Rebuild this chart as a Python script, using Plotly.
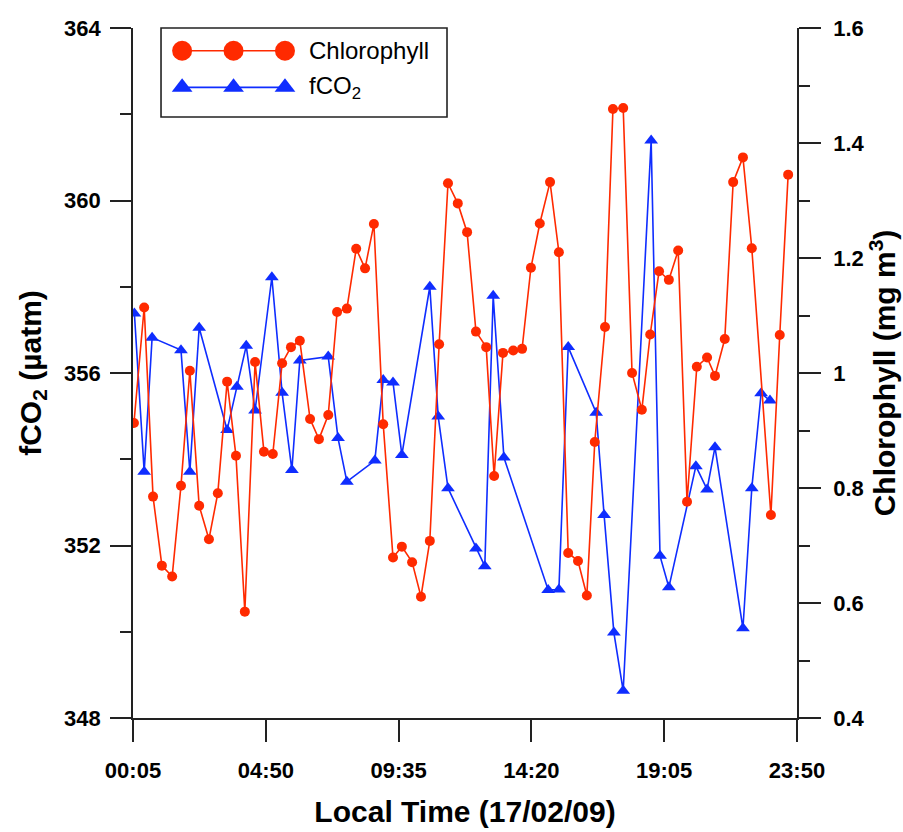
import plotly.graph_objects as go

DAY = "2009-02-17 "

# Chlorophyll (mg m-3), right axis
chl_time = ["00:07", "00:29", "00:48", "01:07", "01:29", "01:48", "02:07", "02:27", "02:48", "03:07",
            "03:27", "03:46", "04:05", "04:27", "04:46", "05:05", "05:25", "05:44", "06:03", "06:25",
            "06:44", "07:04", "07:23", "07:44", "08:04", "08:23", "08:42", "09:02", "09:23", "09:42",
            "10:04", "10:23", "10:42", "11:02", "11:21", "11:42", "12:02", "12:21", "12:43", "13:00",
            "13:19", "13:41", "14:00", "14:19", "14:38", "15:00", "15:19", "15:39", "16:00", "16:19",
            "16:36", "16:58", "17:15", "17:37", "17:56", "18:17", "18:35", "18:54", "19:15", "19:35",
            "19:54", "20:15", "20:37", "20:54", "21:15", "21:33", "21:54", "22:13", "22:54", "23:13",
            "23:31"]
chl_value = [0.913, 1.114, 0.785, 0.665, 0.646, 0.804, 1.004, 0.769, 0.711, 0.791,
             0.985, 0.856, 0.585, 1.019, 0.863, 0.859, 1.017, 1.045, 1.056, 0.920,
             0.885, 0.927, 1.106, 1.112, 1.216, 1.182, 1.259, 0.911, 0.679, 0.698,
             0.671, 0.611, 0.708, 1.050, 1.330, 1.295, 1.245, 1.072, 1.045, 0.821,
             1.035, 1.039, 1.042, 1.183, 1.260, 1.332, 1.210, 0.687, 0.673, 0.613,
             0.880, 1.080, 1.459, 1.461, 1.000, 0.936, 1.067, 1.177, 1.162, 1.213,
             0.776, 1.011, 1.027, 0.995, 1.059, 1.332, 1.375, 1.217, 0.753, 1.066,
             1.345]

# fCO2 (uatm), left axis
co2_time = ["00:08", "00:29", "00:46", "01:48", "02:07", "02:27", "03:27", "03:48", "04:08", "04:27",
            "05:03", "05:25", "05:46", "06:03", "07:04", "07:25", "07:44", "08:44", "09:02", "09:23",
            "09:42", "10:42", "11:00", "11:21", "12:21", "12:40", "12:58", "13:21", "14:56", "15:19",
            "15:39", "16:39", "16:56", "17:17", "17:37", "18:37", "18:56", "19:15", "20:13", "20:37",
            "20:54", "21:54", "22:13", "22:33", "22:52"]
co2_value = [357.38, 353.71, 356.82, 356.53, 353.71, 357.05, 354.68, 355.68, 356.63, 355.13,
             358.22, 355.54, 353.75, 356.29, 356.38, 354.49, 353.48, 353.97, 355.84, 355.78,
             354.10, 358.00, 354.99, 353.33, 351.93, 351.52, 357.79, 354.04, 350.97, 350.98,
             356.60, 355.08, 352.71, 349.98, 348.63, 361.39, 351.76, 351.03, 353.84, 353.30,
             354.28, 350.08, 353.33, 355.53, 355.36]

time_ticks = ["00:05", "04:50", "09:35", "14:20", "19:05", "23:50"]
co2_ticks = [348, 352, 356, 360, 364]
chl_ticks = [0.4, 0.6, 0.8, 1.0, 1.2, 1.4, 1.6]
chl_tick_text = ["0.4", "0.6", "0.8", "1", "1.2", "1.4", "1.6"]

series_names = ["Chlorophyll", "fCO<sub>2</sub>"]

RED = "#ff2a00"
BLUE = "#0f2dff"
FONT = "Liberation Sans, Arial, sans-serif"
AXIS_COLOR = "#222222"

fig = go.Figure()

fig.add_trace(go.Scatter(
    x=[DAY + t for t in chl_time], y=chl_value, yaxis="y2",
    mode="lines+markers", name=series_names[0],
    line=dict(color=RED, width=1.6),
    marker=dict(symbol="circle", size=10, color=RED),
    showlegend=False,
))
fig.add_trace(go.Scatter(
    x=[DAY + t for t in co2_time], y=co2_value, yaxis="y",
    mode="lines+markers", name=series_names[1],
    line=dict(color=BLUE, width=1.6),
    marker=dict(symbol="triangle-up", size=12, color=BLUE),
    showlegend=False,
))

# Legend drawn on its own small axis pair: three sample markers per row
legend_sample_x = [0, 1, 2]
fig.add_trace(go.Scatter(
    x=legend_sample_x, y=[1] * 3, xaxis="x2", yaxis="y3",
    mode="lines+markers", line=dict(color=RED, width=1.6),
    marker=dict(symbol="circle", size=20, color=RED),
    showlegend=False, hoverinfo="skip",
))
fig.add_trace(go.Scatter(
    x=legend_sample_x, y=[0] * 3, xaxis="x2", yaxis="y3",
    mode="lines+markers", line=dict(color=BLUE, width=1.6),
    marker=dict(symbol="triangle-up", size=18, color=BLUE),
    showlegend=False, hoverinfo="skip",
))
for row, name in zip([1, 0], series_names):
    fig.add_annotation(
        x=2.42, y=row, xref="x2", yref="y3", text=name, showarrow=False,
        xanchor="left", yanchor="middle",
        font=dict(family=FONT, size=24, color="black"),
    )
fig.add_shape(
    type="rect", xref="x2 domain", yref="y3 domain", x0=0, x1=1, y0=0, y1=1,
    line=dict(color=AXIS_COLOR, width=1.6), fillcolor="rgba(0,0,0,0)",
)

tick_font = dict(family=FONT, size=22, color="black", weight="bold")
title_font = dict(family=FONT, size=30, color="black", weight="bold")

fig.update_layout(
    width=903, height=832,
    margin=dict(l=133, r=106, t=28, b=114, autoexpand=False),
    paper_bgcolor="white", plot_bgcolor="white",
    font=dict(family=FONT, color="black"),
    xaxis=dict(
        type="date", automargin=False,
        range=[DAY + time_ticks[0], DAY + time_ticks[-1]],
        tickmode="array",
        tickvals=[DAY + t for t in time_ticks],
        ticktext=time_ticks,
        ticks="outside", ticklen=22, tickwidth=1.5, tickcolor=AXIS_COLOR,
        ticklabelstandoff=10,
        showline=True, linecolor=AXIS_COLOR, linewidth=1.6,
        showgrid=False, zeroline=False,
        tickfont=tick_font,
        title=dict(text="Local Time (17/02/09)", font=title_font, standoff=19),
    ),
    yaxis=dict(
        automargin=False,
        range=[co2_ticks[0], co2_ticks[-1]],
        tickmode="array", tickvals=co2_ticks,
        ticks="outside", ticklen=21, tickwidth=1.5, tickcolor=AXIS_COLOR,
        ticklabelstandoff=5,
        minor=dict(dtick=2, ticks="outside", ticklen=11, tickwidth=1.5, tickcolor=AXIS_COLOR, showgrid=False),
        showline=True, linecolor=AXIS_COLOR, linewidth=1.6,
        showgrid=False, zeroline=False,
        tickfont=tick_font,
        title=dict(text="fCO<sub>2</sub> (µatm)", font=title_font, standoff=14),
    ),
    yaxis2=dict(
        overlaying="y", side="right", automargin=False,
        range=[chl_ticks[0], chl_ticks[-1]],
        tickmode="array", tickvals=chl_ticks, ticktext=chl_tick_text,
        ticks="outside", ticklen=22, tickwidth=1.5, tickcolor=AXIS_COLOR,
        ticklabelstandoff=8,
        minor=dict(dtick=0.1, ticks="outside", ticklen=11, tickwidth=1.5, tickcolor=AXIS_COLOR, showgrid=False),
        showline=True, linecolor=AXIS_COLOR, linewidth=1.6,
        showgrid=False, zeroline=False,
        tickfont=tick_font,
        title=dict(text="Chlorophyll (mg m<sup>3</sup>)", font=title_font, standoff=7),
    ),
    xaxis2=dict(
        domain=[0.0422, 0.4729], range=[-0.41, 5.15], anchor="y3",
        visible=False, showticklabels=False, fixedrange=True,
    ),
    yaxis3=dict(
        domain=[0.871, 1.0], range=[-0.81, 1.62], anchor="x2",
        visible=False, showticklabels=False, fixedrange=True,
    ),
)

fig.write_html("out.html")
